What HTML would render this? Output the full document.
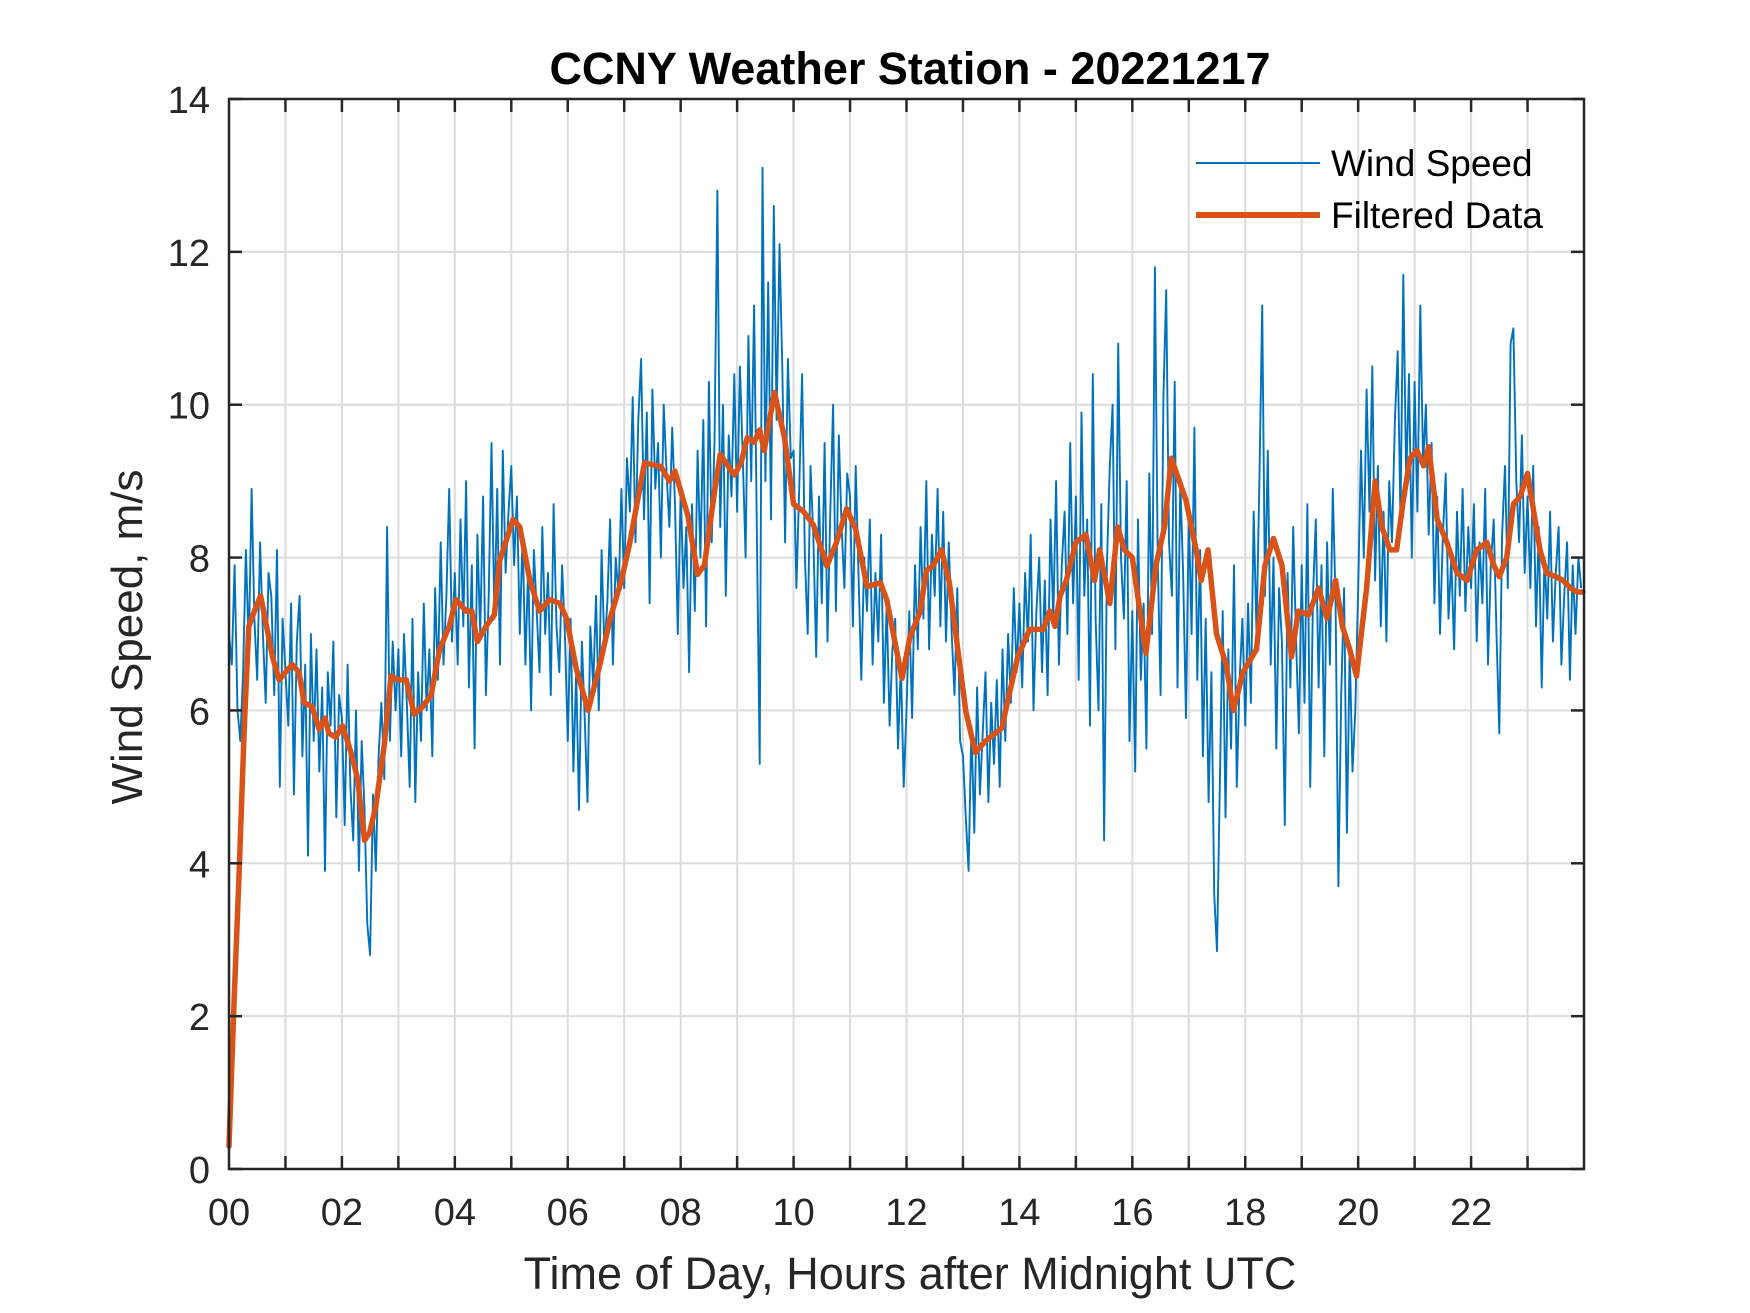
<!DOCTYPE html>
<html><head><meta charset="utf-8">
<style>
html,body{margin:0;padding:0;background:#fff;}
svg{display:block;font-family:"Liberation Sans",Arial,sans-serif;}
</style></head>
<body>
<svg id="chart" width="1750" height="1313" viewBox="0 0 1750 1313">
<rect x="0" y="0" width="1750" height="1313" fill="#fff"/>
<g id="grid"></g>
<g id="series"></g>
<g id="axes"></g>
<text x="910" y="84" text-anchor="middle" font-size="45" font-weight="bold" fill="#000">CCNY Weather Station - 20221217</text>
<text x="910" y="1289" text-anchor="middle" font-size="45" fill="#262626">Time of Day, Hours after Midnight UTC</text>
<text transform="translate(142,637) rotate(-90)" text-anchor="middle" font-size="44" fill="#262626">Wind Speed, m/s</text>
<g>
<g>
<line x1="1196" y1="163" x2="1320" y2="163" stroke="#0072BD" stroke-width="2"/>
<text x="1331" y="176" font-size="37" fill="#000">Wind Speed</text>
</g>
<g>
<line x1="1196" y1="215" x2="1320" y2="215" stroke="#D95319" stroke-width="6"/>
<text x="1331" y="228" font-size="37" fill="#000">Filtered Data</text>
</g>
</g>
</svg>
<script>
const xTickLabels = ["00","02","04","06","08","10","12","14","16","18","20","22"];
const yTickLabels = [0,2,4,6,8,10,12,14];
const rawStart = 0;
const rawStep = 0.05;
const rawSpeed = [
7.0,6.6,7.9,6.0,5.6,6.5,8.1,6.8,8.9,7.2,6.4,8.2,7.0,6.1,7.8,7.5,6.2,8.1,5.0,7.2,
6.5,5.8,7.4,4.9,6.9,7.5,5.4,6.6,4.1,7.0,5.6,6.8,5.2,6.3,3.9,6.5,5.8,6.9,4.6,6.2,
5.9,4.5,6.6,5.0,4.3,6.0,3.9,5.6,4.7,3.2,2.8,4.9,3.9,5.4,6.1,5.1,8.4,5.6,6.9,6.0,
6.8,5.4,7.0,6.1,5.0,7.2,4.8,6.5,5.6,7.4,6.0,6.8,5.4,7.6,6.4,8.2,6.6,7.5,8.9,6.9,
7.8,6.6,8.5,7.1,9.0,6.3,7.9,5.5,8.3,7.0,8.8,6.2,7.5,9.5,7.2,8.9,6.6,9.4,7.8,8.6,
9.2,7.9,8.8,7.0,8.3,6.6,7.9,6.0,8.1,7.3,6.5,8.4,7.0,7.8,6.2,8.7,7.1,6.5,7.9,7.0,
5.6,7.2,5.2,6.5,4.7,6.9,5.9,4.8,7.1,6.3,7.5,6.0,8.1,6.8,7.4,8.5,6.6,8.0,7.5,8.9,
7.6,9.3,8.6,10.1,8.2,9.8,10.6,8.5,9.9,7.4,10.2,8.9,9.5,8.0,10.0,9.1,8.4,9.7,8.7,7.0,
8.9,7.6,8.4,6.5,8.7,7.3,9.4,8.0,9.8,7.1,10.3,8.2,9.5,12.8,8.4,10.0,7.5,9.6,8.8,10.4,
8.6,10.5,9.3,8.0,10.9,9.0,11.3,8.3,5.3,13.1,9.0,11.6,8.5,12.6,9.8,12.1,10.5,8.2,10.6,9.3,
9.4,7.6,8.9,10.4,8.0,7.0,9.2,8.3,6.7,8.8,7.4,9.5,6.9,8.6,10.0,7.3,9.6,8.4,7.6,9.1,
8.8,7.1,9.2,7.8,6.4,8.0,7.3,8.5,6.6,7.8,6.9,8.3,6.1,7.4,5.8,6.8,7.2,5.5,6.6,5.0,
6.0,7.3,5.9,7.9,6.8,8.4,7.2,9.0,6.8,8.3,7.5,8.9,7.1,8.6,6.9,8.2,7.0,6.2,7.6,5.6,
5.4,4.6,3.9,5.8,4.4,6.3,4.9,5.7,6.5,4.8,6.1,5.3,6.4,5.0,6.8,5.6,7.0,6.1,7.6,6.5,
7.4,6.3,7.8,6.9,8.3,6.0,7.3,8.0,6.5,7.7,6.2,8.5,7.2,9.0,6.6,7.9,8.6,7.0,9.5,7.4,
8.8,6.4,9.9,7.5,8.5,5.8,10.4,7.2,6.0,8.7,4.3,7.9,9.2,10.0,6.8,10.8,8.0,7.2,9.0,5.6,
7.3,5.2,8.5,6.4,7.4,5.5,9.1,7.0,11.8,8.0,6.2,10.1,11.5,8.2,7.5,10.3,6.3,9.0,7.8,5.9,
8.6,7.0,9.7,6.4,8.1,5.4,7.2,4.8,6.5,3.6,2.85,5.0,7.3,4.6,6.8,5.5,7.9,5.0,6.4,7.2,
5.8,7.4,6.1,8.6,7.0,9.0,11.3,7.5,9.4,6.6,8.0,5.5,7.6,6.9,4.5,7.8,6.3,8.4,6.9,5.7,
7.9,6.1,8.7,5.0,7.5,8.5,6.3,7.9,5.4,8.2,6.6,8.9,7.4,3.7,6.2,7.6,4.4,6.8,5.2,6.0,
7.6,9.4,8.0,10.2,8.6,10.5,7.7,9.2,7.1,8.6,6.9,9.0,8.2,9.8,10.7,8.5,11.7,9.0,10.4,8.0,
10.3,8.6,11.3,9.2,10.0,8.3,9.5,7.4,8.8,7.0,8.3,9.1,7.2,8.0,6.8,8.6,7.5,8.9,7.3,8.4,
7.6,8.7,6.9,8.2,7.4,8.9,6.6,7.9,8.5,7.0,5.7,8.3,9.2,7.6,10.8,11.0,9.0,8.2,9.6,7.8,
8.8,7.6,9.2,7.1,8.4,6.3,8.0,7.2,8.6,6.9,7.8,8.4,6.6,7.5,8.2,6.4,7.9,7.0,8.0,7.6
];
const filtHours = [0,0.09,0.18,0.27,0.35,0.45,0.56,0.77,0.89,1.0,1.12,1.24,1.33,1.47,1.6,1.7,1.77,1.89,2.01,2.16,2.28,2.4,2.49,2.6,2.75,2.87,3.0,3.14,3.28,3.43,3.58,3.73,3.9,4.02,4.2,4.3,4.4,4.55,4.7,4.79,5.03,5.15,5.33,5.5,5.68,5.86,5.98,6.15,6.36,6.57,6.75,6.95,7.1,7.36,7.65,7.8,7.9,8.13,8.3,8.42,8.6,8.7,8.95,9.07,9.18,9.3,9.4,9.48,9.66,9.84,10.0,10.18,10.35,10.59,10.76,10.94,11.1,11.3,11.54,11.65,11.92,12.06,12.24,12.35,12.47,12.62,12.76,12.88,13.05,13.22,13.4,13.69,13.8,13.97,14.18,14.42,14.54,14.63,14.72,14.83,15.0,15.18,15.33,15.42,15.6,15.74,15.86,16.0,16.24,16.42,16.57,16.69,16.95,17.13,17.22,17.34,17.49,17.66,17.79,17.96,18.2,18.35,18.5,18.65,18.82,18.94,19.12,19.3,19.45,19.6,19.72,19.85,19.97,20.15,20.3,20.42,20.56,20.68,20.8,20.92,21.04,21.16,21.25,21.4,21.57,21.75,21.93,22.1,22.28,22.4,22.5,22.63,22.75,22.87,23.0,23.22,23.34,23.5,23.63,23.76,23.88,23.98];
const filtSpeed = [0.3,2.2,3.9,5.75,7.1,7.3,7.5,6.7,6.4,6.5,6.6,6.5,6.1,6.05,5.75,5.9,5.7,5.65,5.8,5.45,5.1,4.3,4.4,4.75,5.55,6.45,6.4,6.4,5.95,6.05,6.2,6.8,7.1,7.45,7.3,7.3,6.9,7.1,7.25,7.95,8.5,8.4,7.7,7.3,7.45,7.4,7.2,6.55,6.0,6.6,7.2,7.7,8.2,9.24,9.19,9.0,9.13,8.54,7.78,7.9,8.86,9.35,9.08,9.24,9.57,9.51,9.67,9.4,10.16,9.57,8.7,8.6,8.43,7.89,8.2,8.64,8.37,7.62,7.67,7.45,6.42,6.96,7.29,7.83,7.89,8.1,7.67,6.96,5.99,5.45,5.6,5.77,6.15,6.7,7.06,7.06,7.3,7.1,7.5,7.7,8.2,8.3,7.7,8.1,7.4,8.4,8.1,8.0,6.75,7.9,8.4,9.3,8.75,8.1,7.7,8.1,7.0,6.6,6.0,6.5,6.8,7.9,8.25,7.9,6.7,7.3,7.25,7.6,7.2,7.7,7.1,6.8,6.45,7.6,9.0,8.4,8.1,8.1,8.75,9.3,9.4,9.2,9.45,8.5,8.2,7.8,7.7,8.1,8.2,7.9,7.75,8.0,8.7,8.8,9.1,8.1,7.8,7.75,7.7,7.6,7.55,7.55];

const NS = "http://www.w3.org/2000/svg";
const L = 229, R = 1584, T = 99, B = 1169;
const XMAX = 24, YMAX = 14;
function xs(h){ return L + (h / XMAX) * (R - L); }
function ys(v){ return B - (v / YMAX) * (B - T); }
function mk(tag, attrs, parent){
  const e = document.createElementNS(NS, tag);
  for (const k in attrs) e.setAttribute(k, attrs[k]);
  parent.appendChild(e);
  return e;
}
const grid = document.getElementById('grid');
const axes = document.getElementById('axes');
const series = document.getElementById('series');

for (let h = 1; h < 24; h++) {
  const g = mk('line', {x1: xs(h), x2: xs(h), y1: T, y2: B, stroke: '#dcdcdc', 'stroke-width': 2}, grid);
  
  
}
yTickLabels.forEach(v => {
  if (v === 0 || v === 14) return;
  const g = mk('line', {x1: L, x2: R, y1: ys(v), y2: ys(v), stroke: '#dcdcdc', 'stroke-width': 2}, grid);
  
  
});

let d = '';
rawSpeed.forEach((v, i) => {
  const h = rawStart + i * rawStep;
  d += (i ? 'L' : 'M') + xs(h).toFixed(1) + ' ' + ys(v).toFixed(1);
});
const raw = mk('path', {d: d, fill: 'none', stroke: '#0072BD', 'stroke-width': 1.9, 'stroke-linejoin': 'round'}, series);



let d2 = '';
filtSpeed.forEach((v, i) => {
  d2 += (i ? 'L' : 'M') + xs(filtHours[i]).toFixed(1) + ' ' + ys(v).toFixed(1);
});
const filt = mk('path', {d: d2, fill: 'none', stroke: '#D95319', 'stroke-width': 5.5, 'stroke-linejoin': 'round', 'stroke-linecap': 'round'}, series);



const box = mk('rect', {x: L, y: T, width: R - L, height: B - T, fill: 'none', stroke: '#262626', 'stroke-width': 2.5}, axes);



for (let h = 1; h < 24; h++) {
  mk('line', {x1: xs(h), x2: xs(h), y1: B, y2: B - 13, stroke: '#262626', 'stroke-width': 2.5}, axes);
  mk('line', {x1: xs(h), x2: xs(h), y1: T, y2: T + 13, stroke: '#262626', 'stroke-width': 2.5}, axes);
}
xTickLabels.forEach((lab, i) => {
  const t = mk('text', {x: xs(i * 2), y: B + 56, 'text-anchor': 'middle', 'font-size': 38, fill: '#262626'}, axes);
  t.textContent = lab;
  
  
});
yTickLabels.forEach(v => {
  mk('line', {x1: L, x2: L + 13, y1: ys(v), y2: ys(v), stroke: '#262626', 'stroke-width': 2.5}, axes);
  mk('line', {x1: R, x2: R - 13, y1: ys(v), y2: ys(v), stroke: '#262626', 'stroke-width': 2.5}, axes);
  const t = mk('text', {x: L - 19, y: ys(v) + 14, 'text-anchor': 'end', 'font-size': 38, fill: '#262626'}, axes);
  t.textContent = String(v);
  
  
});
</script>
</body></html>
